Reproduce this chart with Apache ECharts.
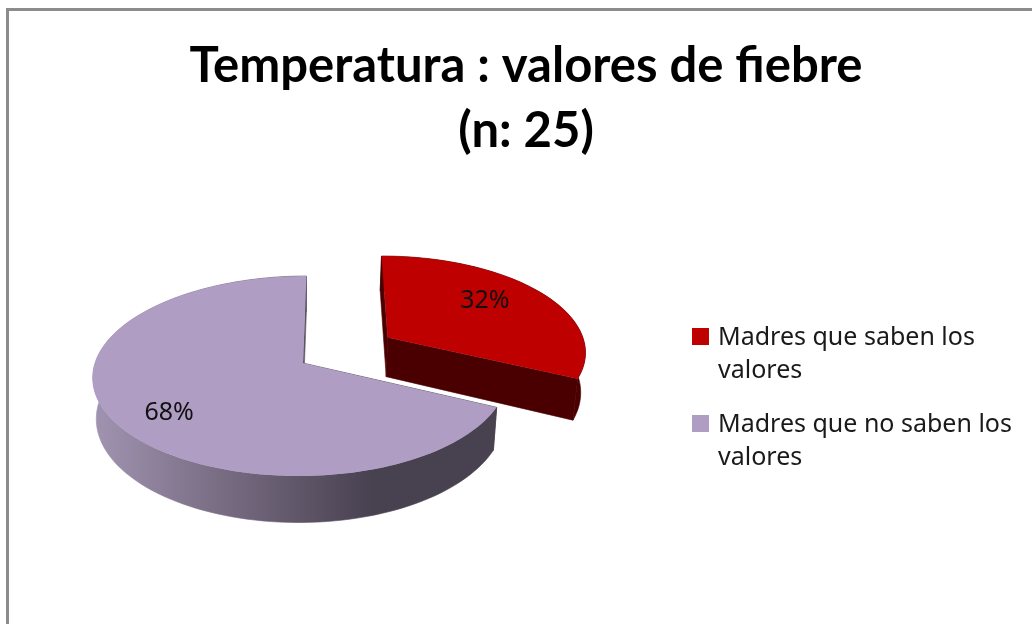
<!DOCTYPE html>
<html>
<head>
<meta charset="utf-8">
<style>
    html, body { margin: 0; padding: 0; background: #fff; overflow: hidden; }
    #chart { width: 1032px; height: 624px; }
</style>
<script src="https://cdn.jsdelivr.net/npm/echarts@6/dist/echarts.min.js"></script>
</head>
<body>
<div id="chart"></div>
<script>
// datos
var categories = ['Madres que saben los valores', 'Madres que no saben los valores'];
var percents = [32, 68];
var legendLines = ['Madres que saben los\nvalores', 'Madres que no saben los\nvalores'];
var titleLines = ['Temperatura : valores de fiebre', '(n: 25)'];

// colores de cada porcion
var topColors = ['#bf0000', '#af9dc3'];
var wallColors = [
    '#4a0000',
    {
        type: 'linear', x: 93, y: 0, x2: 372, y2: 0, global: true,
        colorStops: [
            { offset: 0, color: '#a094b2' },
            { offset: 0.5, color: '#75697f' },
            { offset: 1, color: '#484150' }
        ]
    }
];
var explode = [0.5, 0];

// proyeccion en perspectiva del disco
var pie = { x: 303, y: 363, rx: 208, ry: 98.3, k: 0.13, depth: 40.5, shrink: 0.983, skew: 0.04, narrow: 0.01 };
var labelFrac = 0.73, labelTurn = -6, labelNudge = [-6, 3];

var total = percents.reduce(function (a, b) { return a + b; }, 0);

function project(gx, gy, lower) {
    var s = 1 / (1 - pie.k * gy);
    var dy = pie.ry * gy * s;
    var dx = (pie.rx * gx * s - pie.skew * dy) * (1 - pie.narrow * (gx + 1));
    if (lower) {
        return [pie.x + dx * pie.shrink, pie.y + dy + pie.depth * s];
    }
    return [pie.x + dx, pie.y + dy];
}

// punto del circulo en el plano; theta en grados desde arriba, sentido horario
function ground(theta, r, off) {
    var a = theta * Math.PI / 180;
    return [off[0] + r * Math.sin(a), off[1] - r * Math.cos(a)];
}

function arc(from, to, off, lower) {
    var pts = [];
    var n = Math.ceil(Math.abs(to - from) / 2);
    for (var i = 0; i <= n; i++) {
        var g = ground(from + (to - from) * i / n, 1, off);
        pts.push(project(g[0], g[1], lower));
    }
    return pts;
}

function sliceRenderer(idx) {
    return function (params, api) {
        var start = 0;
        for (var i = 0; i < idx; i++) start += percents[i] / total * 360;
        var value = api.value(0);
        var end = start + value / total * 360;
        var mid = (start + end) / 2;
        var off = ground(mid, explode[idx], [0, 0]);

        var apexTop = project(off[0], off[1], false);
        var apexLow = project(off[0], off[1], true);
        var topArc = arc(start, end, off, false);
        var lowArc = arc(start, end, off, true);

        var wallStyle = { fill: wallColors[idx], stroke: wallColors[idx], lineWidth: 0.6 };
        var children = [
            // cara de corte inicial
            { type: 'polygon', shape: { points: [apexTop, topArc[0], lowArc[0], apexLow] }, style: wallStyle },
            // cara de corte final
            { type: 'polygon', shape: { points: [apexTop, topArc[topArc.length - 1], lowArc[lowArc.length - 1], apexLow] }, style: wallStyle },
            // pared exterior
            { type: 'polygon', shape: { points: topArc.concat(lowArc.slice().reverse()) }, style: wallStyle },
            // cara superior
            { type: 'polygon', shape: { points: [apexTop].concat(topArc) }, style: { fill: topColors[idx] } }
        ];

        var lg = ground(mid + labelTurn, labelFrac, off);
        var lp = project(lg[0], lg[1], false);
        children.push({
            type: 'text',
            x: lp[0] + labelNudge[0],
            y: lp[1] + labelNudge[1],
            style: {
                text: value + '%',
                fill: '#111',
                font: '25px "Noto Sans"',
                textAlign: 'center',
                textVerticalAlign: 'middle'
            }
        });
        return { type: 'group', children: children };
    };
}

var seriesList = categories.map(function (name, i) {
    return {
        name: name,
        type: 'custom',
        coordinateSystem: 'none',
        silent: true,
        z: i === 0 ? 3 : 2,
        itemStyle: { color: topColors[i] },
        data: [percents[i]],
        renderItem: sliceRenderer(i)
    };
});

var option = {
    animation: false,
    backgroundColor: '#fff',
    title: {
        text: titleLines.join('\n'),
        left: 526,
        top: 34,
        padding: 0,
        textAlign: 'center',
        textStyle: {
            fontFamily: 'Lato',
            fontWeight: 'bold',
            fontSize: 49,
            lineHeight: 65,
            color: '#000'
        }
    },
    legend: {
        orient: 'vertical',
        left: 692,
        top: 321,
        padding: 0,
        itemGap: 21,
        itemWidth: 21,
        itemHeight: 66,
        selectedMode: false,
        // cuadro arriba, alineado con la primera linea del texto
        icon: 'path://M21 0H21.01V0.01H21ZM0 7H17V24H0ZM21 66H21.01V66.01H21Z',
        data: categories,
        formatter: function (name) {
            return legendLines[categories.indexOf(name)];
        },
        textStyle: { fontFamily: 'Noto Sans', fontSize: 25, lineHeight: 33, color: '#1a1a1a' }
    },
    graphic: [{
        type: 'rect',
        silent: true,
        shape: { x: 7.5, y: 9.5, width: 2000, height: 2000 },
        style: { fill: 'none', stroke: '#8c8c8c', lineWidth: 3 }
    }],
    series: seriesList
};

var myChart = echarts.init(document.getElementById('chart'));
myChart.setOption(option);
</script>
</body>
</html>
